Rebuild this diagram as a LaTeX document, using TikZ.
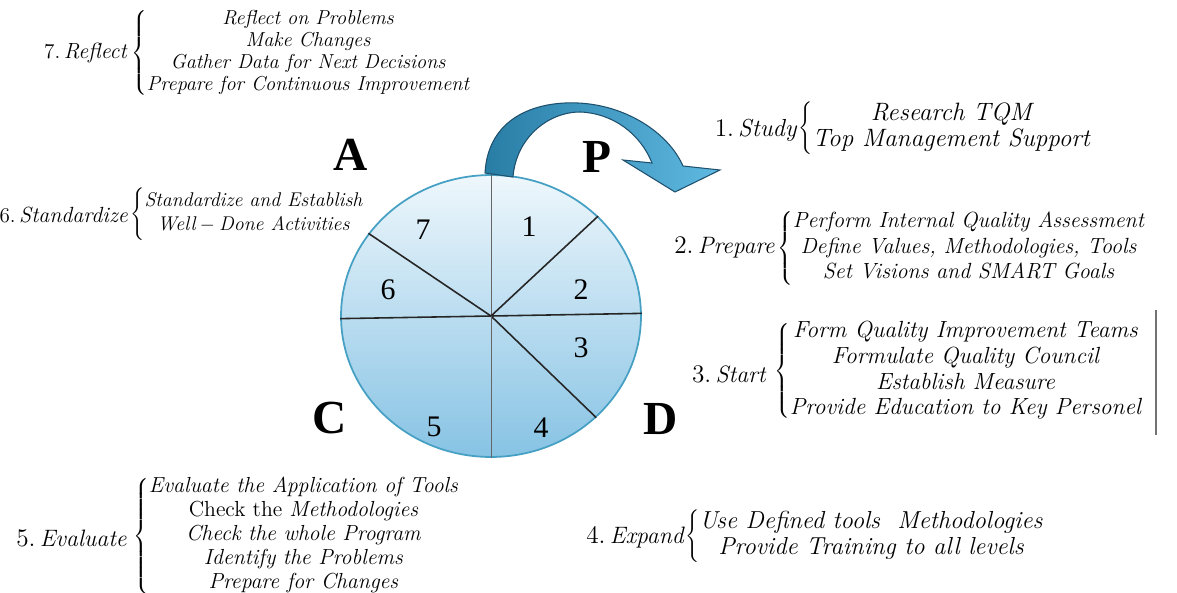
\documentclass[tikz,border=0pt]{standalone}
\usepackage{fontspec}
\newfontfamily\tmsfont{Liberation Serif}
\usetikzlibrary{shapes.geometric}

\tikzset{
  wheel/.style={ellipse, minimum width=6cm, minimum height=5.64cm, inner sep=0pt,
    draw={rgb,255:red,70;green,160;blue,195}, line width=1pt,
    top color={rgb,255:red,238;green,247;blue,252}, bottom color={rgb,255:red,135;green,195;blue,228}},
  cut/.style={line width=0.9pt, black!85},
  thincut/.style={line width=0.5pt, black!60},
  phase/.style={font=\tmsfont\bfseries\fontsize{27}{30}\selectfont},
  slice/.style={font=\tmsfont\fontsize{17}{20}\selectfont},
  steplabel/.style={anchor=east, inner sep=0pt, font=\fontsize{12.5}{14}\selectfont},
  stepblock/.style={anchor=west, inner sep=0pt, font=\fontsize{11.5}{12.5}\selectfont},
  turn/.style={left color={rgb,255:red,40;green,125;blue,165}, right color={rgb,255:red,95;green,185;blue,225},
    draw={rgb,255:red,30;green,80;blue,110}, line width=0.6pt}
}

\begin{document}
\begin{tikzpicture}[x=0.02cm, y=-0.02cm]
\useasboundingbox (0,0) rectangle (1177,592);

% Wheel
\node[wheel] (pie) at (491,316) {};
\draw[thincut] (pie.center) -- (pie.90);
\draw[cut] (pie.center) -- (pie.43);
\draw[cut] (pie.center) -- (pie.1);
\draw[cut] (pie.center) -- (pie.-44);
\draw[thincut] (pie.center) -- (pie.270);
\draw[cut] (pie.center) -- (pie.181.5);
\draw[cut] (pie.center) -- (pie.146.5);

\node[slice] (n1) at (529,227) {1};
\node[slice] (n2) at (581,290) {2};
\node[slice] (n3) at (581,348) {3};
\node[slice] (n4) at (541,428) {4};
\node[slice] (n5) at (434,427) {5};
\node[slice] (n6) at (388,290) {6};
\node[slice] (n7) at (423,230) {7};

% Phases
\node[phase] (pa) at (351,155) {A};
\node[phase] (pp) at (597,157) {P};
\node[phase] (pc) at (330,418) {C};
\node[phase] (pd) at (661,419) {D};

% Turning arrow
\path[turn] (485,173) .. controls (488,118) and (535,101) .. (578,103)
  .. controls (625,105) and (668,132) .. (683,166) -- (720,170) -- (675,192)
  -- (623,160) -- (652,163) .. controls (640,133) and (612,113) .. (580,112)
  .. controls (548,112) and (516,138) .. (513,177) -- cycle;

% Steps
\node[steplabel] (l7) at (127,53) {$7.\,\textit{Reflect}$};
\node[stepblock] (reflect) at (131,53) {$\left\{\begin{array}{@{}c@{}}
  \textit{Reflect on Problems}\\ \textit{Make Changes}\\ \textit{Gather Data for Next Decisions}\\
  \textit{Prepare for Continuous Improvement}\end{array}\right.$};

\node[steplabel, font=\fontsize{14}{16}\selectfont] (l1) at (797,130) {$1.\,\textit{Study}$};
\node[stepblock, font=\fontsize{14.3}{14.8}\selectfont] (study) at (798,128) {$\left\{\begin{array}{@{}c@{}}
  \textit{Research TQM}\\ \textit{Top Management Support}\end{array}\right.$};

\node[steplabel] (l6) at (128,215) {$6.\,\textit{Standardize}$};
\node[stepblock, font=\fontsize{11.3}{13.6}\selectfont] (standard) at (130,214) {$\left\{\begin{array}{@{}c@{}}
  \textit{Standardize and Establish}\\ \textit{Well} - \textit{Done Activities}\end{array}\right.$};

\node[steplabel, font=\fontsize{13.5}{15}\selectfont] (l2) at (775,248) {$2.\,\textit{Prepare}$};
\node[stepblock, font=\fontsize{12.5}{14.7}\selectfont] (prepare) at (777,248) {$\left\{\begin{array}{@{}c@{}}
  \textit{Perform Internal Quality Assessment}\\ \textit{Define Values, Methodologies, Tools}\\
  \textit{Set Visions and SMART Goals}\end{array}\right.$};

\node[steplabel, font=\fontsize{13.5}{15}\selectfont] (l3) at (766,374) {$3.\,\textit{Start}$};
\node[stepblock, font=\fontsize{13.3}{14.7}\selectfont] (start) at (774,371) {$\left\{\begin{array}{@{}c@{}}
  \textit{Form Quality Improvement Teams}\\ \textit{Formulate Quality Council}\\
  \textit{Establish Measure}\\ \textit{Provide Education to Key Personel}\end{array}\right.$};
\draw[black!55, line width=0.6pt] (1156,310) -- (1156,435);

\node[steplabel, font=\fontsize{13.5}{15}\selectfont] (l5) at (127,538) {$5.\,\textit{Evaluate}$};
\node[stepblock, font=\fontsize{12.4}{13.6}\selectfont] (evaluate) at (133,536) {$\left\{\begin{array}{@{}c@{}}
  \textit{Evaluate the Application of Tools}\\ \textup{Check the }\textit{Methodologies}\\
  \textit{Check the whole Program}\\ \textit{Identify the Problems}\\
  \textit{Prepare for Changes}\end{array}\right.$};

\node[steplabel, font=\fontsize{13.5}{15}\selectfont] (l4) at (684,538) {$4.\,\textit{Expand}$};
\node[stepblock, font=\fontsize{14}{14.7}\selectfont] (expand) at (685,536) {$\left\{\begin{array}{@{}c@{}}
  \textit{Use Defined tools\ \ Methodologies}\\ \textit{Provide Training to all levels}\end{array}\right.$};

\end{tikzpicture}
\end{document}
